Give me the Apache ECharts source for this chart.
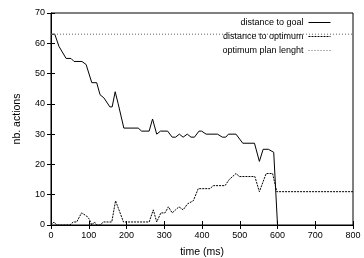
<!DOCTYPE html>
<html>
<head>
<meta charset="utf-8">
<script src="https://cdn.jsdelivr.net/npm/echarts@6/dist/echarts.min.js"></script>
<style>
    html, body { margin: 0; padding: 0; background: #fff; }
    #main { width: 364px; height: 258px; }
</style>
</head>
<body>
<div id="main"></div>
<script>
    // distance to goal (solid)
    var goalTime = [0, 10, 21, 40, 53, 61, 82, 93, 108, 121, 130, 140, 156, 162, 170, 178, 193, 231, 240, 260,
        269, 280, 290, 309, 321, 330, 340, 350, 361, 371, 380, 392, 399, 411, 441, 454, 463, 470, 490, 508,
        539, 552, 562, 576, 590, 600];
    var goalVal = [63, 63, 59, 55, 55, 54, 54, 53, 47, 47, 43, 42, 39, 39, 44, 40, 32, 32, 31, 31,
        35, 30, 31, 31, 29, 29, 30, 29, 30, 29, 29, 31, 31, 30, 30, 29, 29, 30, 30, 27,
        27, 21, 25, 25, 24, 0];

    // distance to optimum (dense dots)
    var optTime = [0, 8, 15, 50, 59, 68, 81, 94, 101, 108, 115, 121, 130, 139, 161, 171, 192, 260, 271, 280,
        291, 302, 311, 321, 330, 339, 350, 362, 377, 390, 421, 430, 461, 472, 490, 499, 540, 552, 570, 587,
        598, 800];
    var optVal = [0, 1, 0, 0, 1, 1, 4, 3, 2, 0, 1, 0, 0, 1, 1, 8, 1, 1, 5, 1,
        4, 4, 6, 4, 5, 6, 5, 7, 8, 12, 12, 13, 13, 15, 17, 16, 16, 11, 17, 17,
        11, 11];

    // optimum plan lenght
    var planTime = [0, 800];
    var planVal = [63, 63];

    var xTicks = [0, 100, 200, 300, 400, 500, 600, 700, 800];
    var yTicks = [0, 10, 20, 30, 40, 50, 60, 70];

    function pairs(t, v) {
        var out = [];
        for (var i = 0; i < t.length; i++) {
            out.push([t[i], v[i]]);
        }
        return out;
    }

    var font = 'Liberation Sans';
    var tick = { show: true, inside: true, length: 4, lineStyle: { color: '#000', width: 1 } };

    var chart = echarts.init(document.getElementById('main'));
    chart.setOption({
        animation: false,
        backgroundColor: '#fff',
        textStyle: { fontFamily: font },
        grid: { left: 51, right: 11, top: 13, bottom: 33, outerBoundsMode: 'none',
            show: true, borderColor: '#000', borderWidth: 1 },
        legend: {
            orient: 'vertical',
            right: 28,
            top: 13,
            align: 'right',
            itemWidth: 22,
            itemHeight: 8,
            itemGap: 5,
            itemStyle: { opacity: 0 },
            lineStyle: { width: 1 },
            textStyle: { fontFamily: font, fontSize: 9, color: '#000' },
            data: ['distance to goal', 'distance to optimum', 'optimum plan lenght']
        },
        xAxis: [{
            type: 'value',
            min: 0, max: 800, interval: 100,
            name: 'time (ms)',
            nameLocation: 'middle',
            nameGap: 22,
            nameTextStyle: { fontFamily: font, fontSize: 10.5, color: '#000' },
            axisLine: { show: true, onZero: false, lineStyle: { color: '#000' } },
            axisTick: tick,
            axisLabel: { fontFamily: font, fontSize: 9, color: '#000', margin: 6,
                formatter: function (v) { return xTicks.indexOf(v) >= 0 ? String(v) : ''; } },
            splitLine: { show: false }
        }, {
            type: 'value', position: 'top',
            min: 0, max: 800, interval: 100,
            axisLine: { show: false },
            axisTick: tick,
            axisLabel: { show: false },
            splitLine: { show: false }
        }],
        yAxis: [{
            type: 'value',
            min: 0, max: 70, interval: 10,
            name: 'nb. actions',
            nameLocation: 'middle',
            nameGap: 28,
            nameTextStyle: { fontFamily: font, fontSize: 10.5, color: '#000' },
            axisLine: { show: true, onZero: false, lineStyle: { color: '#000' } },
            axisTick: tick,
            axisLabel: { fontFamily: font, fontSize: 9, color: '#000', margin: 6,
                formatter: function (v) { return yTicks.indexOf(v) >= 0 ? String(v) : ''; } },
            splitLine: { show: false }
        }, {
            type: 'value', position: 'right',
            min: 0, max: 70, interval: 10,
            axisLine: { show: false },
            axisTick: tick,
            axisLabel: { show: false },
            splitLine: { show: false }
        }],
        series: [{
            name: 'distance to goal',
            type: 'line',
            symbol: 'none',
            color: '#000',
            lineStyle: { color: '#000', width: 1 },
            data: pairs(goalTime, goalVal)
        }, {
            name: 'distance to optimum',
            type: 'line',
            symbol: 'none',
            color: '#000',
            lineStyle: { color: '#000', width: 1, type: [2, 1] },
            data: pairs(optTime, optVal)
        }, {
            name: 'optimum plan lenght',
            type: 'line',
            symbol: 'none',
            color: '#666',
            lineStyle: { color: '#666', width: 1, type: [1, 2] },
            data: pairs(planTime, planVal)
        }]
    });
</script>
</body>
</html>
